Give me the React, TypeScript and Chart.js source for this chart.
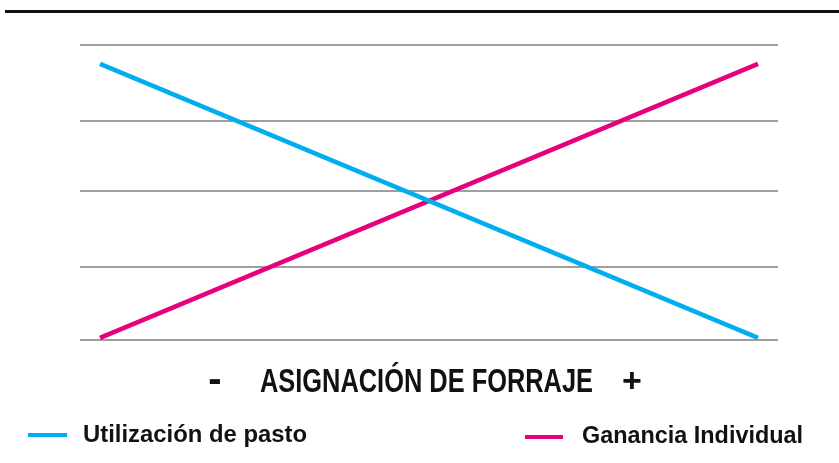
import React, { useEffect, useRef } from "react";
import { Chart, registerables } from "chart.js";

Chart.register(...registerables);

const xPositions = [0, 1];
const utilizacionPasto = [93.6, 0.7];
const gananciaIndividual = [0.7, 93.6];
const gridTicks = [0, 24.7, 50.5, 74.2, 100];
const seriesLabels = ["Utilización de pasto", "Ganancia Individual"];
const axisTitle = "ASIGNACIÓN DE FORRAJE";
const axisMinus = "-";
const axisPlus = "+";

const BLUE = "#00AEEF";
const PINK = "#E6007E";
const GRID = "#9e9e9e";

function drawFit(ctx: CanvasRenderingContext2D, text: string, x: number, baseline: number, width: number, font: string) {
  ctx.save();
  ctx.font = font;
  const w = ctx.measureText(text).width;
  const s = width / w;
  ctx.translate(x, baseline);
  ctx.scale(s, 1);
  ctx.textAlign = "left";
  ctx.textBaseline = "alphabetic";
  ctx.fillStyle = "#111";
  ctx.fillText(text, 0, 0);
  ctx.restore();
}

const decorPlugin = {
  id: "decor",
  afterDraw(chart: any) {
    const ctx: CanvasRenderingContext2D = chart.ctx;
    ctx.save();
    // top rule
    ctx.fillStyle = "#111";
    ctx.fillRect(5, 10, 834, 3);
    // axis title
    const titleFont = "bold 34px 'Liberation Sans', Arial, sans-serif";
    drawFit(ctx, axisTitle, 260, 392, 333, titleFont);
    ctx.font = "bold 40px 'Liberation Sans', Arial, sans-serif";
    ctx.fillStyle = "#111";
    ctx.textAlign = "center";
    ctx.fillText(axisMinus, 215, 392);
    ctx.font = titleFont;
    ctx.fillText(axisPlus, 632, 392);
    // legend
    ctx.fillStyle = BLUE;
    ctx.fillRect(28, 433, 39, 4);
    ctx.fillStyle = PINK;
    ctx.fillRect(525, 435, 38, 4);
    const legFont = "bold 23px 'Liberation Sans', Arial, sans-serif";
    drawFit(ctx, seriesLabels[0], 83, 442, 224, legFont);
    drawFit(ctx, seriesLabels[1], 582, 443, 221, legFont);
    ctx.restore();
  },
};

export default function App() {
  const ref = useRef<HTMLCanvasElement | null>(null);
  useEffect(() => {
    if (!ref.current) return;
    const chart = new Chart(ref.current, {
      type: "line",
      data: {
        datasets: [
          {
            label: seriesLabels[0],
            data: xPositions.map((x, i) => ({ x, y: utilizacionPasto[i] })),
            borderColor: BLUE,
            borderWidth: 4.5,
            borderCapStyle: "butt",
            pointRadius: 0,
            tension: 0,
          },
          {
            label: seriesLabels[1],
            data: xPositions.map((x, i) => ({ x, y: gananciaIndividual[i] })),
            borderColor: PINK,
            borderWidth: 4.5,
            borderCapStyle: "butt",
            pointRadius: 0,
            tension: 0,
          },
        ],
      },
      options: {
        responsive: false,
        animation: false,
        layout: { padding: { left: 80, right: 61, top: 45, bottom: 123 } },
        plugins: { legend: { display: false }, tooltip: { enabled: false }, title: { display: false } },
        scales: {
          x: {
            type: "linear",
            display: false,
            min: -0.0304,
            max: 1.0304,
          },
          y: {
            type: "linear",
            min: 0,
            max: 100,
            afterBuildTicks: (axis: any) => {
              axis.ticks = gridTicks.map((v) => ({ value: v }));
            },
            ticks: { display: false },
            border: { display: false },
            grid: { color: GRID, lineWidth: 2, drawTicks: false },
          },
        },
      },
      plugins: [decorPlugin],
    } as any);
    return () => chart.destroy();
  }, []);
  return (
    <div style={{ position: "fixed", left: 0, top: 0, width: 839, height: 463, background: "#fff" }}>
      <canvas ref={ref} width={839} height={463} style={{ display: "block" }} />
    </div>
  );
}
